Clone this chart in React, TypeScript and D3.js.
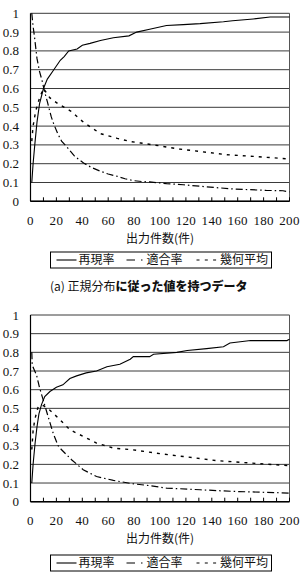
import React from "react";
import * as d3 from "d3";

// Panel (a): recall, precision and their geometric mean vs. number of outputs
const recallA_x = [1, 2, 3.3, 5, 7, 10, 13, 18, 23, 26, 29.5, 36, 40, 46, 54, 64, 76, 82, 92, 105, 118, 131, 149, 156, 172, 185, 200];
const recallA_y = [0.1, 0.2, 0.3, 0.42, 0.52, 0.6, 0.65, 0.7, 0.75, 0.77, 0.8, 0.81, 0.83, 0.84, 0.855, 0.87, 0.88, 0.9, 0.915, 0.935, 0.94, 0.945, 0.955, 0.96, 0.97, 0.98, 0.98];
const precA_x = [1, 2, 3, 5, 7, 9, 11, 13, 16, 18, 21, 24, 28, 34, 41, 47, 54, 60, 67, 73, 79.5, 86, 92, 105, 118, 131, 143, 156, 169, 182, 195, 200];
const precA_y = [1.0, 0.93, 0.88, 0.76, 0.69, 0.64, 0.58, 0.53, 0.45, 0.41, 0.36, 0.32, 0.29, 0.24, 0.204, 0.18, 0.16, 0.145, 0.133, 0.12, 0.11, 0.105, 0.103, 0.094, 0.088, 0.08, 0.073, 0.066, 0.062, 0.058, 0.056, 0.05];
const geoA_x = [1, 2, 4, 7, 10, 12, 15, 21, 31, 41, 54, 67, 77, 85, 95, 115, 131, 151, 172, 200];
const geoA_y = [0.32, 0.4, 0.48, 0.55, 0.6, 0.58, 0.55, 0.52, 0.48, 0.42, 0.36, 0.335, 0.318, 0.31, 0.3, 0.278, 0.265, 0.248, 0.239, 0.225];

// Panel (b)
const recallB_x = [1, 2, 3.5, 5, 6.5, 8.5, 11, 15, 20, 25, 30.4, 35.6, 43, 51, 59, 69, 77, 79.4, 92, 95, 113, 121, 136, 149, 154, 162, 170, 198, 200];
const recallB_y = [0.1, 0.2, 0.31, 0.4, 0.47, 0.52, 0.563, 0.59, 0.613, 0.626, 0.66, 0.674, 0.69, 0.7, 0.723, 0.736, 0.763, 0.777, 0.777, 0.79, 0.8, 0.81, 0.82, 0.83, 0.85, 0.857, 0.863, 0.863, 0.87];
const precB_x = [1, 1.3, 2, 4.6, 7, 9.8, 13.6, 17.5, 21.3, 24, 31.7, 40.7, 51, 64, 79, 92, 105, 131, 157, 182.5, 200];
const precB_y = [0.8, 0.74, 0.72, 0.68, 0.61, 0.545, 0.456, 0.367, 0.3, 0.278, 0.225, 0.171, 0.135, 0.114, 0.096, 0.086, 0.073, 0.064, 0.055, 0.05, 0.046];
const geoB_x = [1, 2, 3.3, 6, 10, 15, 22.7, 30.4, 40.7, 51, 64, 79, 97, 118, 144, 170, 200];
const geoB_y = [0.28, 0.38, 0.44, 0.51, 0.515, 0.49, 0.44, 0.385, 0.35, 0.314, 0.287, 0.278, 0.26, 0.242, 0.22, 0.207, 0.193];

const xTickLabels = [0, 20, 40, 60, 80, 100, 120, 140, 160, 180, 200];
const xMinorTicks = d3.range(0, 201, 10);
const yTickLabels = [0, 0.1, 0.2, 0.3, 0.4, 0.5, 0.6, 0.7, 0.8, 0.9, 1];

const seriesNames = ["再現率", "適合率", "幾何平均"];
const xAxisTitle = "出力件数(件)";
const captionPlain = "(a) 正規分布";
const captionBold = "に従った値を持つデータ";

const SERIF = "'Liberation Serif', 'DejaVu Serif', serif";
const SANS = "'Noto Sans CJK JP', 'Noto Sans', sans-serif";

const PREC_DASH = "7,3,1.5,3";
const GEO_DASH = "3,5";

type Pts = { xs: number[]; ys: number[] };

function zip(p: Pts): [number, number][] {
  return p.xs.map((x, i) => [x, p.ys[i]]);
}

function Panel(props: {
  top: number;
  bottom: number;
  legendY: number;
  recall: Pts;
  prec: Pts;
  geo: Pts;
}) {
  const { top, bottom, legendY } = props;
  const x = d3.scaleLinear().domain([0, 200]).range([30.5, 289.5]);
  const y = d3.scaleLinear().domain([0, 1]).range([bottom, top]);
  const line = d3
    .line<[number, number]>()
    .x((d) => x(d[0]))
    .y((d) => y(d[1]));

  const lx = 50.5;
  const lw = 221;
  const lh = 16;

  return (
    <g>
      {/* horizontal gridlines */}
      {yTickLabels.map((v) => (
        <line key={"g" + v} x1={x(0)} x2={x(200)} y1={y(v)} y2={y(v)} stroke="#3a3a3a" strokeWidth={1} />
      ))}
      {/* plot frame: left and right edges */}
      <line x1={x(0)} x2={x(0)} y1={y(1)} y2={y(0)} stroke="#000" strokeWidth={1.2} />
      <line x1={x(200)} x2={x(200)} y1={y(1)} y2={y(0)} stroke="#555" strokeWidth={1} />
      <line x1={x(0)} x2={x(200)} y1={y(0)} y2={y(0)} stroke="#000" strokeWidth={1.4} />
      {/* x minor ticks pointing into the plot */}
      {xMinorTicks.map((v) => (
        <line key={"t" + v} x1={x(v)} x2={x(v)} y1={y(0)} y2={y(0) - 4} stroke="#000" strokeWidth={1} />
      ))}
      {/* y tick labels */}
      {yTickLabels.map((v) => (
        <text key={"yl" + v} x={19} y={y(v)} dy="0.35em" textAnchor="end" fontFamily={SERIF} fontSize={13} fill="#111">
          {String(v)}
        </text>
      ))}
      {/* x tick labels */}
      {xTickLabels.map((v) => (
        <text key={"xl" + v} x={x(v)} y={bottom + 19} dy="0.35em" textAnchor="middle" fontFamily={SERIF} fontSize={13} letterSpacing={0.3} fill="#111">
          {String(v)}
        </text>
      ))}
      <text x={160} y={bottom + 37} dy="0.35em" textAnchor="middle" fontFamily={SANS} fontSize={12} fill="#111">
        {xAxisTitle}
      </text>

      {/* series */}
      <path d={line(zip(props.geo)) ?? ""} fill="none" stroke="#000" strokeWidth={1.4} strokeDasharray={GEO_DASH} />
      <path d={line(zip(props.prec)) ?? ""} fill="none" stroke="#000" strokeWidth={1.2} strokeDasharray={PREC_DASH} />
      <path d={line(zip(props.recall)) ?? ""} fill="none" stroke="#000" strokeWidth={1.1} />

      {/* legend */}
      <rect x={lx} y={legendY - lh / 2} width={lw} height={lh} fill="#fff" stroke="#000" strokeWidth={1} />
      <line x1={56.5} x2={76.5} y1={legendY} y2={legendY} stroke="#000" strokeWidth={1.1} />
      <text x={78.5} y={legendY} dy="0.36em" fontFamily={SANS} fontSize={12} fill="#111">
        {seriesNames[0]}
      </text>
      <line x1={126.5} x2={146} y1={legendY} y2={legendY} stroke="#000" strokeWidth={1.1} strokeDasharray="8.5,6,1.5,10" />
      <text x={146.5} y={legendY} dy="0.36em" fontFamily={SANS} fontSize={12} fill="#111">
        {seriesNames[1]}
      </text>
      <line x1={196.5} x2={218} y1={legendY} y2={legendY} stroke="#000" strokeWidth={1.1} strokeDasharray="3,5.3" />
      <text x={220} y={legendY} dy="0.36em" fontFamily={SANS} fontSize={12} fill="#111">
        {seriesNames[2]}
      </text>
    </g>
  );
}

export default function App() {
  return (
    <svg
      width={300}
      height={579}
      viewBox="0 0 300 579"
      style={{ position: "absolute", left: 0, top: 0, background: "#fff" }}
    >
      <rect x={0} y={0} width={300} height={579} fill="#fff" />
      <Panel
        top={13.3}
        bottom={201.3}
        legendY={260}
        recall={{ xs: recallA_x, ys: recallA_y }}
        prec={{ xs: precA_x, ys: precA_y }}
        geo={{ xs: geoA_x, ys: geoA_y }}
      />
      <text x={50} y={286.5} dy="0.36em" fontFamily={SANS} fontSize={12} fill="#111">
        {captionPlain}
        <tspan fontWeight={900}>{captionBold}</tspan>
      </text>
      <Panel
        top={315}
        bottom={501.7}
        legendY={563}
        recall={{ xs: recallB_x, ys: recallB_y }}
        prec={{ xs: precB_x, ys: precB_y }}
        geo={{ xs: geoB_x, ys: geoB_y }}
      />
    </svg>
  );
}
